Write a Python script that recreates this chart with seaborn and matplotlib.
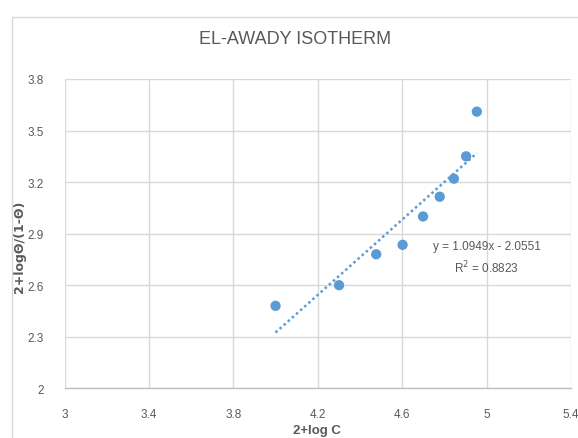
import numpy as np
import pandas as pd
import matplotlib
matplotlib.use("Agg")
import matplotlib.pyplot as plt
from matplotlib.patches import Rectangle
import seaborn as sns

# 2+log C and 2+log(theta/(1-theta)) values
log_c = [4.000, 4.301, 4.477, 4.602, 4.699, 4.778, 4.845, 4.903, 4.954]
log_theta = [2.48, 2.60, 2.78, 2.835, 3.00, 3.115, 3.22, 3.35, 3.61]

# linear trendline coefficients
slope = 1.0949
intercept = -2.0551
r_squared = 0.8823

x_ticks = [3, 3.4, 3.8, 4.2, 4.6, 5, 5.4]
x_tick_labels = ["3", "3.4", "3.8", "4.2", "4.6", "5", "5.4"]
y_ticks = [2, 2.3, 2.6, 2.9, 3.2, 3.5, 3.8]
y_tick_labels = ["2", "2.3", "2.6", "2.9", "3.2", "3.5", "3.8"]

sns.set_theme(style="whitegrid")
plt.rcParams["font.family"] = ["Liberation Sans", "DejaVu Sans"]

df = pd.DataFrame({"x": log_c, "y": log_theta})

fig = plt.figure(figsize=(5.78, 4.39), dpi=100)
fig.patch.set_facecolor("white")
# chart area border
fig.add_artist(Rectangle((12 / 578, -0.05), 1.0, 1 - 18 / 439 + 0.05,
                         transform=fig.transFigure, fill=False,
                         edgecolor="#d9d9d9", linewidth=1.0))

ax = fig.add_axes([64.5 / 578, 1 - 389.3 / 439, (571 - 64.5) / 578, (389.3 - 80) / 439])
ax.set_facecolor("white")

blue = "#5b9bd5"
xs = np.array([min(log_c), max(log_c)])
ax.plot(xs, slope * xs + intercept, linestyle=(0, (1, 1.2)), color=blue, linewidth=1.8, zorder=2)
sns.scatterplot(data=df, x="x", y="y", ax=ax, color=blue, s=55, edgecolor="none", zorder=3)

ax.set_xlim(3, 5.4)
ax.set_ylim(2, 3.8)
ax.set_xticks(x_ticks)
ax.set_xticklabels(x_tick_labels)
ax.set_yticks(y_ticks)
ax.set_yticklabels(y_tick_labels)
ax.grid(True, color="#d9d9d9", linewidth=1.0)
ax.tick_params(axis="both", colors="#595959", labelsize=8.5, length=0)
ax.tick_params(axis="x", pad=14)
ax.tick_params(axis="y", pad=15)
for side in ["left", "right", "top"]:
    ax.spines[side].set_visible(False)
ax.spines["bottom"].set_color("#bfbfbf")
ax.spines["bottom"].set_linewidth(1.0)

ax.set_xlabel("2+log C", fontsize=9.5, fontweight="bold", color="#595959")
ax.xaxis.set_label_coords((317 - 64.5) / 506.5, (389.3 - 431) / 309.3)
ax.xaxis.label.set_va("center")
ax.set_ylabel("2+log\u0398/(1-\u0398)", fontsize=9, fontweight="bold", color="#595959",
              fontfamily=["DejaVu Sans"])
ax.yaxis.set_label_coords((20 - 64.5) / 506.5, (389.3 - 247) / 309.3)
ax.yaxis.label.set_va("center")

fig.text(295 / 578, 1 - 40 / 439, "EL-AWADY ISOTHERM", ha="center", va="center",
         fontsize=13, color="#595959")

ax.text(5.0, 2.827, f"y = {slope}x - {abs(intercept)}", ha="center", va="center",
        fontsize=8.5, color="#595959")
ax.text(5.0, 2.707, f"R$^2$ = {r_squared}", ha="center", va="center",
        fontsize=8.5, color="#595959")

fig.savefig("out.png", dpi=100)
